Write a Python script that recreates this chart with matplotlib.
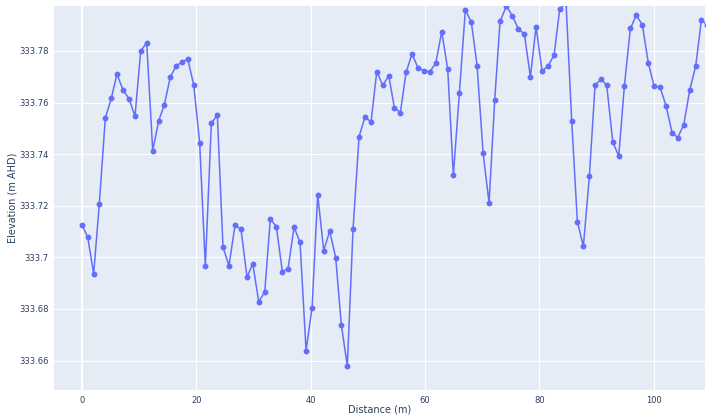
import matplotlib
matplotlib.use("Agg")
from matplotlib import pyplot as plt
from matplotlib.ticker import FuncFormatter

# distance along the profile (m)
distance = [0, 1.0, 2.04, 3.03, 4.08, 5.13, 6.12, 7.17, 8.22, 9.27,
            10.27, 11.32, 12.37, 13.42, 14.4, 15.45, 16.5, 17.55, 18.49, 19.54,
            20.59, 21.58, 22.63, 23.68, 24.67, 25.72, 26.77, 27.82, 28.87, 29.87,
            30.92, 31.97, 32.95, 34.0, 35.05, 36.05, 37.1, 38.15, 39.2, 40.25,
            41.24, 42.29, 43.34, 44.39, 45.37, 46.42, 47.42, 48.47, 49.52, 50.57,
            51.57, 52.62, 53.67, 54.65, 55.7, 56.7, 57.74, 58.79, 59.84, 60.84,
            61.89, 62.94, 63.99, 64.97, 66.02, 67.07, 68.12, 69.12, 70.17, 71.22,
            72.21, 73.14, 74.25, 75.3, 76.35, 77.4, 78.45, 79.44, 80.49, 81.54,
            82.59, 83.59, 84.69, 85.68, 86.67, 87.72, 88.77, 89.76, 90.81, 91.81,
            92.86, 93.91, 94.89, 95.94, 96.99, 98.04, 99.09, 100.09, 101.14, 102.19,
            103.24, 104.23, 105.28, 106.33, 107.38, 108.37, 109.4]

# elevation (m AHD)
elevation = [333.7126, 333.7078, 333.6936, 333.7208, 333.7540, 333.7617, 333.7710, 333.7649, 333.7615, 333.7547,
             333.7800, 333.7831, 333.7414, 333.7529, 333.7591, 333.7699, 333.7743, 333.7757, 333.7769, 333.7669,
             333.7443, 333.6965, 333.7520, 333.7551, 333.7039, 333.6968, 333.7124, 333.7109, 333.6923, 333.6976,
             333.6828, 333.6866, 333.7149, 333.7119, 333.6945, 333.6956, 333.7117, 333.7058, 333.6639, 333.6805,
             333.7243, 333.7026, 333.7102, 333.6998, 333.6738, 333.6580, 333.7109, 333.7467, 333.7545, 333.7524,
             333.7720, 333.7666, 333.7704, 333.7580, 333.7561, 333.7717, 333.7788, 333.7734, 333.7724, 333.7719,
             333.7752, 333.7875, 333.7728, 333.7318, 333.7635, 333.7959, 333.7911, 333.7743, 333.7405, 333.7211,
             333.7611, 333.7914, 333.7974, 333.7936, 333.7885, 333.7865, 333.7699, 333.7894, 333.7722, 333.7741,
             333.7784, 333.7963, 333.7985, 333.7528, 333.7138, 333.7043, 333.7314, 333.7666, 333.7691, 333.7666,
             333.7448, 333.7392, 333.7663, 333.7887, 333.7938, 333.7901, 333.7752, 333.7664, 333.7659, 333.7587,
             333.7483, 333.7464, 333.7514, 333.7648, 333.7742, 333.7920, 333.7900]

x_ticks = [0, 20, 40, 60, 80, 100]
y_ticks = [333.66, 333.68, 333.70, 333.72, 333.74, 333.76, 333.78]

text_col = "#2a3f5f"

fig = plt.figure(figsize=(7.15, 4.15), dpi=100)
ax = fig.add_axes([54/715, 1-390/415, 651/715, 384/415])
ax.set_facecolor("#E5ECF6")
for s in ax.spines.values():
  s.set_visible(False)

ax.plot(distance, elevation, color="#636EFA", lw=1.1, marker="o", ms=3.2, zorder=3)

ax.set_xlim(-4.9, 109.0)
ax.set_ylim(333.6486, 333.7974)
ax.set_xticks(x_ticks)
ax.set_yticks(y_ticks)
ax.yaxis.set_major_formatter(FuncFormatter(lambda v, p: ("%.2f" % v).rstrip("0").rstrip(".")))
ax.grid(True, color="white", lw=0.8, zorder=0)
ax.axvline(0, color="white", lw=1.6, zorder=1)
ax.tick_params(length=0, labelsize=6.0, labelcolor=text_col, pad=4)

ax.set_xlabel("Distance (m)", fontsize=7, color=text_col)
ax.set_ylabel("Elevation (m AHD)", fontsize=7, color=text_col)
ax.xaxis.set_label_coords(0.5, -0.037)
ax.yaxis.set_label_coords(-0.056, 0.5)

fig.savefig("out.png", dpi=100)
